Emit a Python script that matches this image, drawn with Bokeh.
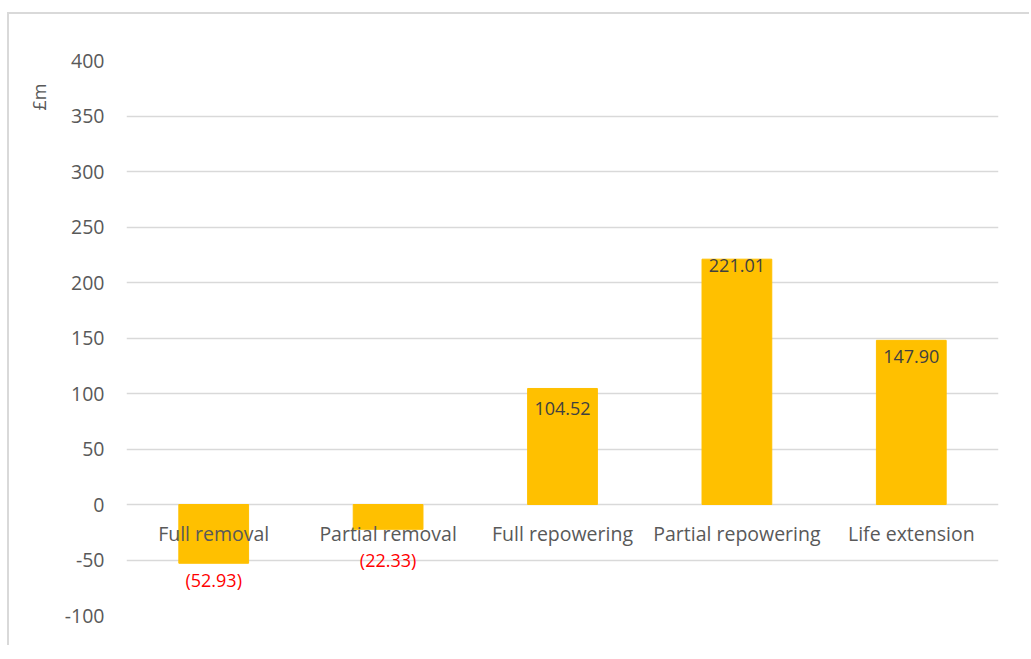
import math
from bokeh.plotting import figure
from bokeh.models import ColumnDataSource, FixedTicker, Title, FactorRange
from bokeh.core.properties import value
from bokeh.embed import file_html
from bokeh.resources import INLINE

categories = ["Full removal", "Partial removal", "Full repowering", "Partial repowering", "Life extension"]
values = [-52.93, -22.33, 104.52, 221.01, 147.90]
tick_values = [-100, -50, 0, 50, 100, 150, 200, 250, 300, 350, 400]
y_unit = "£m"

# label styling (pixel offsets from bar end, positive = away from zero)
label_offsets = [17, 31, -20, -6, -16]

labels = [f"({abs(v):.2f})" if v < 0 else f"{v:.2f}" for v in values]
label_colors = ["#ff0000" if v < 0 else "#404040" for v in values]
# screen y_offset: positive moves down
y_offsets = []
for v, o in zip(values, label_offsets):
    y_offsets.append(o if v < 0 else -o)

src = ColumnDataSource(dict(cat=categories, val=values, lab=labels, col=label_colors, yo=y_offsets,
                            zero=[0] * len(categories)))

FONT = "Open Sans"
GRAY = "#595959"

p = figure(x_range=FactorRange(*categories, range_padding=0), y_range=(-100, 400),
           frame_width=872, frame_height=555,
           min_border_left=117, min_border_top=46, min_border_right=31, min_border_bottom=30,
           output_backend="svg", toolbar_location=None,
           margin=(12, 0, 0, 7),
           styles={"border-left": "2px solid #d9d9d9", "border-top": "2px solid #d9d9d9"})

p.vbar(x="cat", top="val", bottom=0, width=0.40, color="#FFC000", source=src)

p.text(x="cat", y="val", text="lab", text_color="col", y_offset="yo",
       text_align="center", text_baseline="middle",
       text_font=value(FONT), text_font_size="18px", source=src)

p.text(x="cat", y="zero", text="cat", text_color=GRAY, y_offset=29,
       text_align="center", text_baseline="middle",
       text_font=value(FONT), text_font_size="19.5px", source=src)

p.xaxis.visible = False
p.xgrid.visible = False
p.ygrid.grid_line_color = "#d9d9d9"
p.ygrid.grid_line_width = 1.3
p.yaxis.ticker = FixedTicker(ticks=tick_values)
p.yaxis.major_label_overrides = {t: str(t) for t in tick_values}
p.yaxis.axis_line_color = None
p.yaxis.major_tick_line_color = None
p.yaxis.minor_tick_line_color = None
p.yaxis.major_label_text_color = GRAY
p.yaxis.major_label_text_font = FONT
p.yaxis.major_label_text_font_size = "19.5px"
p.yaxis.major_label_standoff = 16
p.outline_line_color = None

p.add_layout(Title(text=y_unit, align="right", offset=23, standoff=22,
                   text_color=GRAY, text_font=FONT, text_font_size="18px",
                   text_font_style="normal"), "left")

open("out.html", "w").write(file_html(p, INLINE))
